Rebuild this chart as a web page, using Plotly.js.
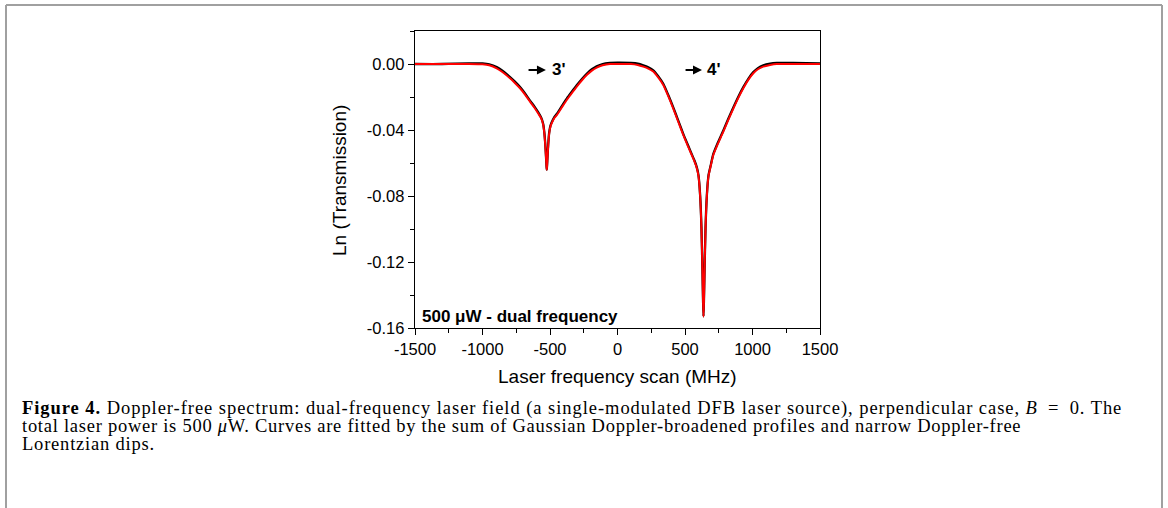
<!DOCTYPE html>
<html>
<head>
<meta charset="utf-8">
<script src="https://cdn.plot.ly/plotly-3.0.1.min.js"></script>
<style>
  html, body { margin: 0; padding: 0; background: #ffffff; }
  #chart { width: 1168px; height: 508px; }
  .annotation[data-index="7"] text { letter-spacing: 0.95px; }
  .annotation[data-index="8"] text { letter-spacing: 0.74px; }
  .annotation[data-index="9"] text { letter-spacing: 0.8px; }
</style>
</head>
<body>
<div id="chart"></div>
<script>
// ---- data ----
const freqMHz = [-1500,-1300,-1100,-1000,-950,-895,-850,-796,-760,-722,-685,-648,-615,-587,-565,-550,-542,-535,-530,-526,-524,-522,-518,-513,-506,-497,-488,-470,-450,-410,-376,-340,-302,-265,-228,-190,-154,-110,-56,0,100,150,191,228,265,300,339,376,413,450,487,520,549,570,587,600,612,622,629,634,637,640,645,652,662,674,690,710,740,784,820,858,895,932,970,1006,1040,1080,1130,1179,1300,1500];

const lnTransData = [0,0,0.0004,0.0003,-0.0002,-0.0018,-0.0042,-0.0079,-0.0107,-0.0140,-0.0178,-0.0222,-0.0258,-0.0293,-0.0325,-0.0365,-0.0415,-0.0485,-0.0555,-0.0615,-0.0640,-0.0618,-0.0555,-0.0485,-0.0415,-0.0375,-0.0355,-0.0325,-0.0303,-0.0252,-0.0210,-0.0170,-0.0129,-0.0092,-0.0059,-0.0032,-0.0014,0.0000,0.0006,0.0008,0.0006,0.0002,-0.0008,-0.0020,-0.0038,-0.0072,-0.0120,-0.0188,-0.0263,-0.0343,-0.0423,-0.0488,-0.0545,-0.0585,-0.0625,-0.0675,-0.0795,-0.0995,-0.1245,-0.1445,-0.1530,-0.1445,-0.1245,-0.0995,-0.0795,-0.0675,-0.0615,-0.0545,-0.0483,-0.0403,-0.0333,-0.0263,-0.0198,-0.0140,-0.0088,-0.0049,-0.0025,-0.0008,0.0002,0.0006,0.0006,0.0004];

const lnTransFit = [0,0,0,-0.0002,-0.0008,-0.0026,-0.0050,-0.0087,-0.0115,-0.0147,-0.0185,-0.0228,-0.0265,-0.0300,-0.0330,-0.0370,-0.0420,-0.0490,-0.0560,-0.0620,-0.0640,-0.0620,-0.0560,-0.0490,-0.0420,-0.0380,-0.0360,-0.0330,-0.0310,-0.0260,-0.0218,-0.0178,-0.0137,-0.0100,-0.0067,-0.0040,-0.0022,-0.0008,0,0,0,-0.0006,-0.0016,-0.0028,-0.0046,-0.0080,-0.0127,-0.0195,-0.0270,-0.0350,-0.0430,-0.0495,-0.0550,-0.0590,-0.0630,-0.0680,-0.0800,-0.1000,-0.1250,-0.1450,-0.1530,-0.1450,-0.1250,-0.1000,-0.0800,-0.0680,-0.0620,-0.0550,-0.0490,-0.0410,-0.0340,-0.0270,-0.0205,-0.0147,-0.0095,-0.0056,-0.0032,-0.0016,-0.0006,0,0,0];

const xTickVals = [-1500,-1000,-500,0,500,1000,1500];
const xTickText = ['-1500','-1000','-500','0','500','1000','1500'];
const xMinorVals = [-1250,-750,-250,250,750,1250];
const yTickVals = [0,-0.04,-0.08,-0.12,-0.16];
const yTickText = ['0.00','-0.04','-0.08','-0.12','-0.16'];
const yMinorVals = [0.02,-0.02,-0.06,-0.10,-0.14];

const peakLabels = ["3'", "4'"];
const peakLabelX = [-433, 718];
const arrowTailX = [-670, 493];
const arrowHeadX = [-530, 626];
const labelY = -0.0036;

const xTitle = 'Laser frequency scan (MHz)';
const yTitle = 'Ln (Transmission)';
const insideLabel = '<b>500 μW - dual frequency</b>';
const captionLines = [
  '<b>Figure 4.</b> Doppler-free spectrum: dual-frequency laser field (a single-modulated DFB laser source), perpendicular case, <i>B</i>\u2002=\u20020. The',
  'total laser power is 500 <i>μ</i>W. Curves are fitted by the sum of Gaussian Doppler-broadened profiles and narrow Doppler-free',
  'Lorentzian dips.'
];

// ---- figure ----
const W = 1168, H = 508;
const L = 415, R = 820, T = 31, B = 328;
const px = v => (v - L) / (R - L);
const py = v => (B - v) / (B - T);

const sans = 'Arial, "Liberation Sans", sans-serif';
const serif = '"Liberation Serif", "Times New Roman", serif';

const traces = [
  { x: freqMHz, y: lnTransData, type: 'scatter', mode: 'lines', name: 'data',
    line: { color: '#000000', width: 2.3, shape: 'spline', smoothing: 0.6 }, hoverinfo: 'skip' },
  { x: freqMHz, y: lnTransFit, type: 'scatter', mode: 'lines', name: 'fit',
    line: { color: '#ff0000', width: 2, shape: 'spline', smoothing: 0.6 }, hoverinfo: 'skip' }
];

const annotations = [];
for (let i = 0; i < peakLabels.length; i++) {
  annotations.push({ x: arrowHeadX[i], y: labelY, ax: arrowTailX[i], ay: labelY,
    axref: 'x', ayref: 'y', xref: 'x', yref: 'y', text: '', showarrow: true,
    arrowhead: 2, arrowsize: 0.9, arrowwidth: 2, arrowcolor: '#000000' });
  annotations.push({ x: peakLabelX[i], y: labelY, xref: 'x', yref: 'y', text: '<b>' + peakLabels[i] + '</b>',
    showarrow: false, font: { family: sans, size: 17, color: '#000000' }, xanchor: 'center', yanchor: 'middle' });
}
annotations.push({ x: px(420), y: py(316), xref: 'paper', yref: 'paper', text: insideLabel,
  showarrow: false, xanchor: 'left', yanchor: 'middle', font: { family: sans, size: 17, color: '#000000' } });
annotations.push({ x: px(340), y: py(181), xref: 'paper', yref: 'paper', text: yTitle, textangle: -90,
  showarrow: false, xanchor: 'center', yanchor: 'middle', font: { family: sans, size: 19, color: '#000000' } });
annotations.push({ x: px(617.5), y: py(376), xref: 'paper', yref: 'paper', text: xTitle,
  showarrow: false, xanchor: 'center', yanchor: 'middle', font: { family: sans, size: 19, color: '#000000' } });
const capY = [408, 426, 444];
for (let i = 0; i < captionLines.length; i++) {
  annotations.push({ x: px(20), y: py(capY[i]), xref: 'paper', yref: 'paper', text: captionLines[i],
    showarrow: false, xanchor: 'left', yanchor: 'middle', align: 'left',
    font: { family: serif, size: 18.5, color: '#000000' } });
}

const frame = { color: '#a0a0a0', width: 2 };
const shapes = [
  { type: 'line', xref: 'paper', yref: 'paper', x0: px(6), x1: px(1162), y0: py(5), y1: py(5), line: frame },
  { type: 'line', xref: 'paper', yref: 'paper', x0: px(6), x1: px(6), y0: py(5), y1: py(510), line: frame },
  { type: 'line', xref: 'paper', yref: 'paper', x0: px(1162), x1: px(1162), y0: py(5), y1: py(510), line: frame }
];

const layout = {
  width: W, height: H,
  margin: { l: L, r: W - R, t: T, b: H - B, pad: 0 },
  paper_bgcolor: '#ffffff', plot_bgcolor: '#ffffff',
  showlegend: false,
  font: { family: sans, color: '#000000' },
  xaxis: {
    range: [-1500, 1500], tickmode: 'array', tickvals: xTickVals, ticktext: xTickText,
    ticks: 'outside', ticklen: 6, tickwidth: 1, tickcolor: '#000000',
    showline: true, linecolor: '#000000', linewidth: 1.3, mirror: true,
    showgrid: false, zeroline: false,
    tickfont: { family: sans, size: 16.5, color: '#000000' },
    minor: { tickmode: 'array', tickvals: xMinorVals, ticks: 'outside', ticklen: 3.5, tickcolor: '#000000', showgrid: false },
    title: { text: '' }
  },
  yaxis: {
    range: [-0.16, 0.02], tickmode: 'array', tickvals: yTickVals, ticktext: yTickText,
    ticks: 'outside', ticklen: 6, tickwidth: 1, tickcolor: '#000000',
    showline: true, linecolor: '#000000', linewidth: 1.3, mirror: true,
    showgrid: false, zeroline: false,
    tickfont: { family: sans, size: 16.5, color: '#000000' },
    minor: { tickmode: 'array', tickvals: yMinorVals, ticks: 'outside', ticklen: 3.5, tickcolor: '#000000', showgrid: false },
    title: { text: '' }
  },
  annotations: annotations,
  shapes: shapes
};

Plotly.newPlot('chart', traces, layout, { staticPlot: true, displayModeBar: false });
</script>
</body>
</html>
